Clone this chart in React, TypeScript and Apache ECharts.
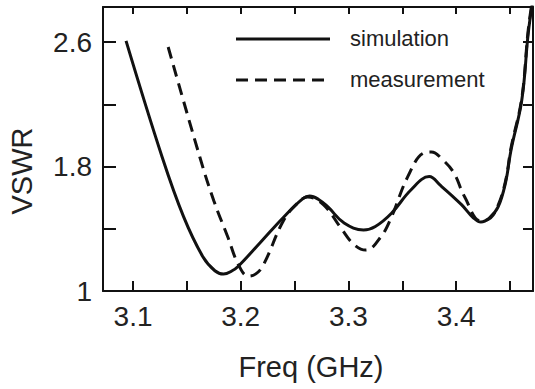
import React, { useEffect, useRef } from "react";
import * as echarts from "echarts";

const simFreq = [3.0935, 3.127, 3.147, 3.165, 3.176, 3.184, 3.192, 3.198, 3.218, 3.24, 3.258, 3.264, 3.272, 3.281, 3.296, 3.314, 3.325, 3.34, 3.358, 3.375, 3.386, 3.405, 3.416, 3.423, 3.431, 3.439, 3.446, 3.451, 3.461, 3.467, 3.472];
const simVswr = [2.607, 1.861, 1.476, 1.218, 1.13, 1.109, 1.13, 1.161, 1.31, 1.476, 1.595, 1.61, 1.59, 1.54, 1.437, 1.392, 1.415, 1.5, 1.649, 1.735, 1.675, 1.555, 1.47, 1.443, 1.47, 1.54, 1.7, 1.906, 2.227, 2.658, 2.9];

const measFreq = [3.1326, 3.162, 3.175, 3.188, 3.198, 3.207, 3.214, 3.221, 3.24, 3.253, 3.262, 3.277, 3.293, 3.305, 3.316, 3.33, 3.34, 3.355, 3.37, 3.377, 3.388, 3.398, 3.408, 3.423, 3.432, 3.439, 3.446, 3.451, 3.461, 3.467, 3.472];
const measVswr = [2.568, 1.861, 1.58, 1.347, 1.167, 1.096, 1.11, 1.167, 1.456, 1.566, 1.604, 1.553, 1.405, 1.3, 1.263, 1.347, 1.476, 1.733, 1.887, 1.893, 1.84, 1.758, 1.604, 1.45, 1.47, 1.55, 1.71, 1.92, 2.24, 2.68, 2.92];

const xTickValues = [3.1, 3.15, 3.2, 3.25, 3.3, 3.35, 3.4, 3.45];
const xLabelValues = [3.1, 3.2, 3.3, 3.4];
const yTickValues = [1, 1.4, 1.8, 2.2, 2.6];
const yLabelValues = [1, 1.8, 2.6];
const seriesNames = ["simulation", "measurement"];
const xTitle = "Freq (GHz)";
const yTitle = "VSWR";

export default function App() {
  const ref = useRef<HTMLDivElement>(null);
  useEffect(() => {
    const chart = echarts.init(ref.current!, null, { renderer: "svg" });
    const font = "'Liberation Sans', Arial, sans-serif";
    const ink = "#111";
    const axisLine = { show: true, lineStyle: { color: ink, width: 2 } };
    const xMin = 3.0721;
    const xMax = 3.4714;
    const yMin = 1;
    const yMax = 2.825;
    const dash = [12, 7];
    chart.setOption({
      animation: false,
      grid: { left: 103, right: 2, top: 7, bottom: 98 },
      xAxis: [
        {
          type: "value", min: xMin, max: xMax, position: "bottom",
          axisLine, splitLine: { show: false },
          axisTick: { inside: true, length: 10, lineStyle: { color: ink, width: 2 }, customValues: xTickValues },
          axisLabel: { customValues: xLabelValues, fontSize: 28, fontFamily: font, color: "#222", margin: 11, formatter: (v: number) => v.toFixed(1) },
        },
        {
          type: "value", min: xMin, max: xMax, position: "top",
          axisLine, splitLine: { show: false },
          axisTick: { inside: true, length: 7, lineStyle: { color: ink, width: 2 }, customValues: xTickValues },
          axisLabel: { show: false },
        },
      ],
      yAxis: [
        {
          type: "value", min: yMin, max: yMax, position: "left",
          axisLine, splitLine: { show: false },
          axisTick: { inside: true, length: 13, lineStyle: { color: ink, width: 2 }, customValues: yTickValues },
          axisLabel: { customValues: yLabelValues, fontSize: 28, fontFamily: font, color: "#222", margin: 11, formatter: (v: number) => (v === 1 ? "1" : v.toFixed(1)) },
        },
        {
          type: "value", min: yMin, max: yMax, position: "right",
          axisLine, splitLine: { show: false },
          axisTick: { inside: true, length: 10, lineStyle: { color: ink, width: 2 }, customValues: yTickValues },
          axisLabel: { show: false },
        },
      ],
      series: [
        {
          name: seriesNames[0], type: "line", xAxisIndex: 0, yAxisIndex: 0,
          data: simFreq.map((f, i) => [f, simVswr[i]]),
          smooth: 0.4, symbol: "none", clip: true,
          lineStyle: { color: ink, width: 3 },
        },
        {
          name: seriesNames[1], type: "line", xAxisIndex: 0, yAxisIndex: 0,
          data: measFreq.map((f, i) => [f, measVswr[i]]),
          smooth: 0.4, symbol: "none", clip: true,
          lineStyle: { color: ink, width: 3, type: dash },
        },
      ],
      graphic: [
        { type: "line", shape: { x1: 236, y1: 39, x2: 330, y2: 39 }, style: { stroke: ink, lineWidth: 3 } },
        { type: "line", shape: { x1: 236, y1: 80, x2: 330, y2: 80 }, style: { stroke: ink, lineWidth: 3, lineDash: dash } },
        { type: "text", x: 350, y: 38, style: { text: seriesNames[0], fontSize: 22, fontFamily: font, fill: "#222", textAlign: "left", textVerticalAlign: "middle" } },
        { type: "text", x: 350, y: 79, style: { text: seriesNames[1], fontSize: 22, fontFamily: font, fill: "#222", textAlign: "left", textVerticalAlign: "middle" } },
        { type: "text", x: 311, y: 367, style: { text: xTitle, fontSize: 29, fontFamily: font, fill: "#222", textAlign: "center", textVerticalAlign: "middle" } },
        { type: "text", x: 22, y: 171, rotation: Math.PI / 2, style: { text: yTitle, fontSize: 29, fontFamily: font, fill: "#222", textAlign: "center", textVerticalAlign: "middle" } },
      ],
    });
    return () => chart.dispose();
  }, []);
  return <div ref={ref} style={{ position: "fixed", left: 0, top: 0, width: 535, height: 389, background: "#fff" }} />;
}
